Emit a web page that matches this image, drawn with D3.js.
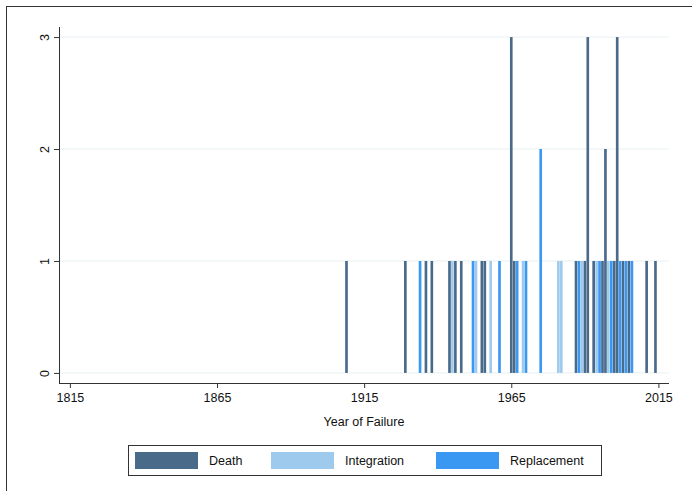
<!DOCTYPE html>
<html>
<head>
<meta charset="utf-8">
<script src="https://cdn.jsdelivr.net/npm/d3@7"></script>
<style>
html,body{margin:0;padding:0;background:#fff;}
svg{display:block;}
text{font-family:"Liberation Sans",Arial,Helvetica,sans-serif;}
</style>
</head>
<body>
<svg id="chart" width="692" height="491"></svg>
<script>
// ---- data ----
const types = ["Death", "Integration", "Replacement"];
const typeColors = ["#4a6a8a", "#9ecbed", "#3a98f2"];

const deathYears  = [1909,1929,1936,1938,1944,1946,1948,1955,1956,1965,1966,1987,1990,1991,1993,1996,1997,2000,2001,2003,2005,2011,2014];
const deathCounts = [1,1,1,1,1,1,1,1,1,3,1,1,1,3,1,1,2,1,3,1,1,1,1];

const integrationYears  = [1945,1953,1958,1969,1981,1982,1989,1994,1998];
const integrationCounts = [1,1,1,1,1,1,1,1,1];

const replacementYears  = [1934,1952,1961,1967,1970,1975,1988,1995,1999,2002,2004,2006];
const replacementCounts = [1,1,1,1,1,2,1,1,1,1,1,1];

const xTicks = [1815, 1865, 1915, 1965, 2015];
const yTicks = [0, 1, 2, 3];
const xTitle = "Year of Failure";

// ---- build ----
const series = [
  {type: types[0], years: deathYears, counts: deathCounts},
  {type: types[1], years: integrationYears, counts: integrationCounts},
  {type: types[2], years: replacementYears, counts: replacementCounts}
];
const rows = [];
series.forEach((s, si) => s.years.forEach((yr, i) => rows.push({type: s.type, si, year: yr, count: s.counts[i]})));

const svg = d3.select("#chart");
const color = d3.scaleOrdinal().domain(types).range(typeColors);

// outer frame
svg.append("rect").attr("x", 6.5).attr("y", 6.5).attr("width", 700).attr("height", 500)
  .attr("fill", "#fff").attr("stroke", "#333").attr("stroke-width", 1);

const x = d3.scaleLinear().domain([1811.3, 2018.6]).range([59, 669]);
const y = d3.scaleLinear().domain([-0.09, 3.09]).range([383, 27]);

// gridlines
svg.append("g").selectAll("line").data(yTicks).join("line")
  .attr("x1", 59).attr("x2", 669)
  .attr("y1", d => y(d)).attr("y2", d => y(d))
  .attr("stroke", "#e7f0f2").attr("stroke-width", 1);

// bars
const bw = x(1800.9) - x(1800);
svg.append("g").selectAll("rect").data(rows).join("rect")
  .attr("x", d => x(d.year) - bw / 2)
  .attr("width", bw)
  .attr("y", d => y(d.count))
  .attr("height", d => y(0) - y(d.count))
  .attr("fill", d => color(d.type));

// axes
const xAxis = svg.append("g").attr("transform", "translate(0,383)")
  .call(d3.axisBottom(x).tickValues(xTicks).tickFormat(d3.format("d")).tickSize(5).tickPadding(5));
xAxis.select(".domain").attr("stroke", "#333").attr("d", "M59,0.5H669");
xAxis.selectAll(".tick line").attr("stroke", "#333");
xAxis.selectAll("text").attr("font-size", "12.5px").attr("fill", "#111");

const yAxis = svg.append("g").attr("transform", "translate(59,0)")
  .call(d3.axisLeft(y).tickValues(yTicks).tickFormat(d3.format("d")).tickSize(5).tickPadding(4));
yAxis.select(".domain").attr("stroke", "#333").attr("d", "M0.5,27V383");
yAxis.selectAll(".tick line").attr("stroke", "#333");
yAxis.selectAll("text").attr("font-size", "12.5px").attr("fill", "#111")
  .attr("text-anchor", "middle").attr("dy", null)
  .attr("transform", "translate(-14,0) rotate(-90)")
  .attr("x", 0).attr("y", 0).attr("dominant-baseline", "central");

// x title
svg.append("text").attr("x", 364).attr("y", 426).attr("text-anchor", "middle")
  .attr("font-size", "12.5px").attr("fill", "#111").text(xTitle);

// legend
const lg = svg.append("g");
lg.append("rect").attr("x", 128.5).attr("y", 445.5).attr("width", 473).attr("height", 30)
  .attr("fill", "#fff").attr("stroke", "#333");
const swX = [135, 271, 436];
types.forEach((t, i) => {
  lg.append("rect").attr("x", swX[i]).attr("y", 452).attr("width", 63).attr("height", 17)
    .attr("fill", color(t));
  lg.append("text").attr("x", swX[i] + 74).attr("y", 465).attr("font-size", "12.5px")
    .attr("fill", "#111").text(t);
});
</script>
</body>
</html>
